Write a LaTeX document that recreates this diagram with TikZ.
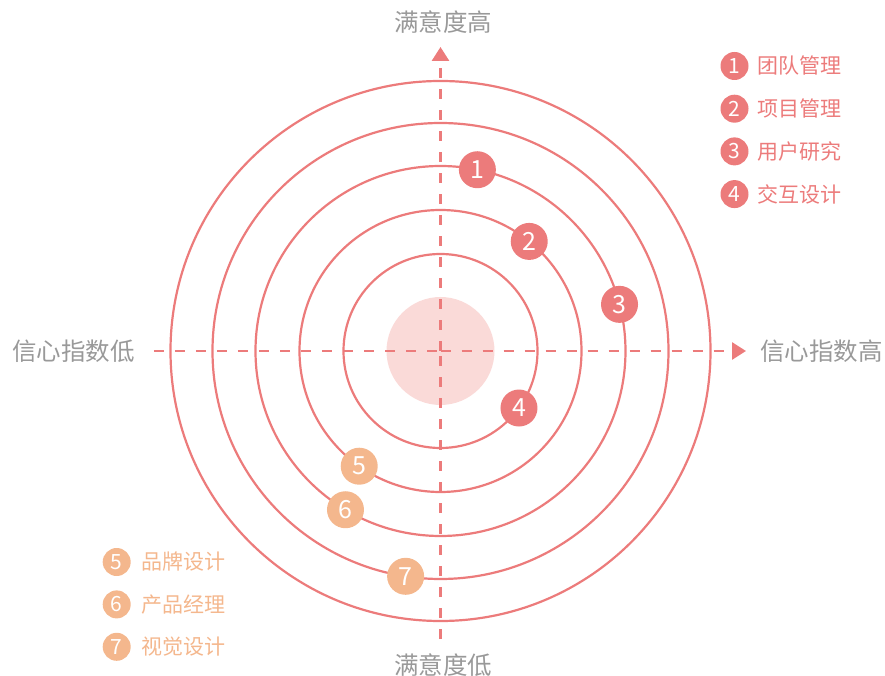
\documentclass[tikz,border=0pt]{standalone}
\usepackage{fontspec}
\setmainfont{Noto Sans CJK SC}
\usetikzlibrary{positioning, arrows.meta}

\definecolor{ringred}{HTML}{EC7B7B}
\definecolor{dotorange}{HTML}{F4B78D}
\definecolor{corepink}{HTML}{FADAD8}
\definecolor{labelgray}{HTML}{999999}

\begin{document}
\begin{tikzpicture}[
    x=1pt, y=1pt,
    core/.style={circle, fill=corepink, minimum size=108pt, inner sep=0pt},
    ring/.style={draw=ringred, line width=2.2pt},
    axis/.style={draw=ringred, line width=2.8pt, dash pattern=on 10pt off 11pt, -{Triangle[width=17pt, length=14pt]}},
    axisline/.style={draw=ringred, line width=2.8pt, dash pattern=on 10pt off 11pt},
    dotred/.style={circle, fill=ringred, minimum size=37pt, inner sep=0pt, text=white, font=\fontsize{25}{25}\selectfont},
    dotorg/.style={circle, fill=dotorange, minimum size=37pt, inner sep=0pt, text=white, font=\fontsize{25}{25}\selectfont},
    keyred/.style={circle, fill=ringred, minimum size=28pt, inner sep=0pt, text=white, font=\fontsize{21}{21}\selectfont},
    keyorg/.style={circle, fill=dotorange, minimum size=28pt, inner sep=0pt, text=white, font=\fontsize{21}{21}\selectfont},
    keytext/.style={anchor=west, inner sep=0pt, font=\fontsize{21}{21}\selectfont},
    axislabel/.style={text=labelgray, inner sep=0pt, font=\fontsize{24.5}{24.5}\selectfont}
]
\useasboundingbox (-440.5,-325) rectangle (444.5,351);

% Core
\node[core] (Core) at (0,0) {};

% Axes
\coordinate (Top) at (0,304);
\coordinate (Bottom) at (0,-288);
\coordinate (Left) at (-286.5,0);
\coordinate (Right) at (305.5,0);
\draw[axisline] (Bottom) -- (Core.center);
\draw[axis] (Core.center) -- (Top);
\draw[axisline] (Left) -- (Core.center);
\draw[axis] (Core.center) -- (Right);

% Rings
\draw[ring] (Core.center) circle (97pt);
\draw[ring] (Core.center) circle (141pt);
\draw[ring] (Core.center) circle (185pt);
\draw[ring] (Core.center) circle (228pt);
\draw[ring] (Core.center) circle (270pt);

% Markers
\node[dotred] (Team) at (78.5:185pt) {1};
\node[dotred] (Project) at (51:141pt) {2};
\node[dotred] (Research) at (14.6:185pt) {3};
\node[dotred] (Interaction) at (-36:97pt) {4};
\node[dotorg] (Brand) at (234.8:141pt) {5};
\node[dotorg] (Product) at (239.1:185pt) {6};
\node[dotorg] (Visual) at (261.2:228pt) {7};

% Axis labels
\node[axislabel] (HighSat) at (2.5,329) {满意度高};
\node[axislabel] (LowSat) at (2.5,-314) {满意度低};
\node[axislabel] (LowConf) at (-367,0) {信心指数低};
\node[axislabel] (HighConf) at (381,0) {信心指数高};

% Legend
\node[keyred] (Key1) at (294,285) {1};
\node[keyred, below=14.3pt of Key1] (Key2) {2};
\node[keyred, below=14.3pt of Key2] (Key3) {3};
\node[keyred, below=14.3pt of Key3] (Key4) {4};
\node[keytext, text=ringred, right=9pt of Key1] (Text1) {团队管理};
\node[keytext, text=ringred, right=9pt of Key2] (Text2) {项目管理};
\node[keytext, text=ringred, right=9pt of Key3] (Text3) {用户研究};
\node[keytext, text=ringred, right=9pt of Key4] (Text4) {交互设计};

\node[keyorg] (Key5) at (-323.8,-211) {5};
\node[keyorg, below=14pt of Key5] (Key6) {6};
\node[keyorg, below=14pt of Key6] (Key7) {7};
\node[keytext, text=dotorange, right=10pt of Key5] (Text5) {品牌设计};
\node[keytext, text=dotorange, right=10pt of Key6] (Text6) {产品经理};
\node[keytext, text=dotorange, right=10pt of Key7] (Text7) {视觉设计};

\end{tikzpicture}
\end{document}
